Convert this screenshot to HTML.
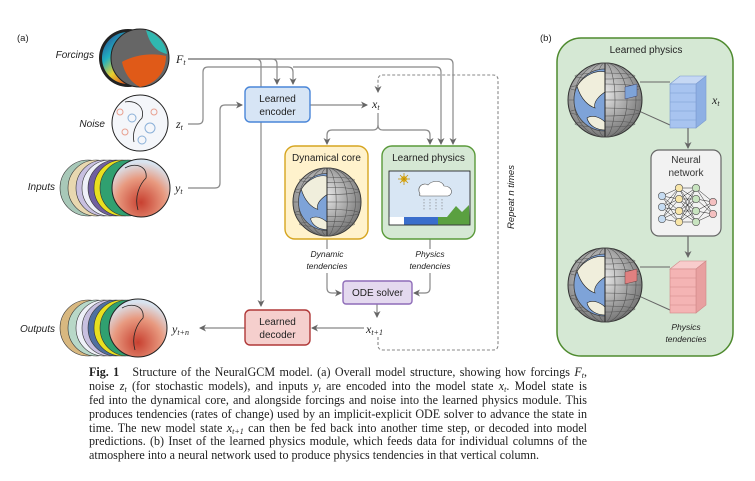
<!DOCTYPE html>
<html><head><meta charset="utf-8"><style>
html,body{margin:0;padding:0;background:#fff;}
svg{display:block;}
.s{font-family:"Liberation Sans",sans-serif;}
.m{font-family:"Liberation Serif",serif;font-style:italic;}
.cap{position:absolute;left:89px;top:366px;width:498px;font-family:"Liberation Serif",serif;font-size:12.1px;line-height:13.9px;color:#222;}
.cap div{text-align:justify;text-align-last:justify;white-space:nowrap;height:13.9px;}
.cap div.l{text-align-last:left;}
.cap sub{font-size:8px;line-height:0;vertical-align:-2px;}
</style></head><body>
<div style="position:relative;width:755px;height:481px;overflow:hidden;">
<svg width="755" height="481" viewBox="0 0 755 481" xmlns="http://www.w3.org/2000/svg">
<defs>
<marker id="ar" markerWidth="8" markerHeight="8" refX="6" refY="4" orient="auto" markerUnits="userSpaceOnUse"><path d="M0,0.5 L7,4 L0,7.5 L2,4 z" fill="#666"/></marker>
<radialGradient id="gg" cx="0.45" cy="0.4" r="0.6"><stop offset="0" stop-color="#eee"/><stop offset="1" stop-color="#777"/></radialGradient>
<linearGradient id="fg" x1="0" y1="0" x2="1" y2="1"><stop offset="0" stop-color="#2a3b8f"/><stop offset="0.3" stop-color="#20b0c0"/><stop offset="0.5" stop-color="#e8d030"/><stop offset="0.7" stop-color="#e06020"/><stop offset="1" stop-color="#c02010"/></linearGradient>
<radialGradient id="rg" cx="0.5" cy="0.75" r="0.7"><stop offset="0" stop-color="#c84030"/><stop offset="0.6" stop-color="#e89a80"/><stop offset="1" stop-color="#d8e4f0"/></radialGradient>
<clipPath id="lh"><rect x="-50" y="-50" width="50" height="100"/></clipPath>
<g id="dglobe">
<circle r="37" fill="url(#gg)" stroke="#333" stroke-width="1"/>
<g stroke="#555" stroke-width="0.6" fill="none">
<ellipse rx="10" ry="37"/><ellipse rx="22" ry="37"/><ellipse rx="31" ry="37"/>
<line x1="-37" y1="0" x2="37" y2="0"/><ellipse rx="35" ry="4" cy="-12"/><ellipse rx="35" ry="4" cy="12"/><ellipse rx="30" ry="3" cy="-24"/><ellipse rx="30" ry="3" cy="24"/>
</g>
<g clip-path="url(#lh)">
<circle r="31" fill="#7ea3d8"/>
<path d="M-28,-14 C-20,-26 -8,-30 0,-28 L0,-8 C-6,-4 -12,2 -10,8 C-16,6 -24,0 -28,-14z" fill="#f0eedc" stroke="#222" stroke-width="0.6"/>
<path d="M-18,18 C-12,14 -4,18 0,22 L0,30 C-8,30 -16,26 -18,18z" fill="#f0eedc" stroke="#222" stroke-width="0.6"/>
<circle r="31" fill="none" stroke="#444" stroke-width="0.8"/>
</g>
<line x1="0" y1="-37" x2="0" y2="37" stroke="#222" stroke-width="1"/>
</g>
</defs>

<text x="17" y="41" class="s" font-size="9.5" fill="#222">(a)</text>
<text x="540" y="41" class="s" font-size="9.5" fill="#222">(b)</text>

<!-- Forcings globe -->
<text x="94" y="58" class="s" font-size="10" font-style="italic" text-anchor="end" fill="#222">Forcings</text>
<ellipse cx="128" cy="58" rx="29" ry="29" fill="#222"/>
<ellipse cx="128" cy="58" rx="26" ry="26" fill="url(#fg)"/>
<circle cx="140" cy="58" r="29" fill="#666" stroke="#222"/>
<path d="M122,62 C132,56 150,52 166,56 C166,72 156,84 140,87 C130,82 124,72 122,62z" fill="#e05a18"/>
<path d="M146,30 C158,34 166,44 167,54 C158,52 150,46 146,30z" fill="#30b8b0"/>
<text x="176" y="63" class="m" font-size="12" fill="#222">F<tspan font-size="8" dy="2">t</tspan></text>

<!-- Noise -->
<text x="105" y="127" class="s" font-size="10" font-style="italic" text-anchor="end" fill="#222">Noise</text>
<circle cx="140" cy="123" r="28" fill="#f4f6fa" stroke="#222"/>
<g fill="none" stroke-width="1">
<circle cx="132" cy="118" r="4" stroke="#8ab0d8"/><circle cx="150" cy="128" r="5" stroke="#8ab0d8"/><circle cx="125" cy="132" r="3" stroke="#e8a090"/><circle cx="154" cy="112" r="3" stroke="#e8a090"/><circle cx="142" cy="140" r="4" stroke="#8ab0d8"/><circle cx="120" cy="112" r="3" stroke="#e8a090"/>
</g>
<path d="M125,102 C135,100 145,106 142,118 C136,124 132,132 134,142" fill="none" stroke="#222" stroke-width="0.8"/>
<text x="176" y="128" class="m" font-size="12" fill="#222">z<tspan font-size="8" dy="2">t</tspan></text>

<!-- Inputs stack -->
<text x="55" y="190" class="s" font-size="10" font-style="italic" text-anchor="end" fill="#222">Inputs</text>
<g stroke="#333" stroke-width="0.6">
<circle cx="88" cy="188" r="28" fill="#a8c8b8"/><circle cx="96" cy="188" r="28" fill="#e8d8b0"/><circle cx="104" cy="188" r="28" fill="#c8c0e0"/><circle cx="110" cy="188" r="28" fill="#eef0f8"/><circle cx="116" cy="188" r="28" fill="#7060a0"/><circle cx="122" cy="188" r="28" fill="#e8e020"/><circle cx="128" cy="188" r="28" fill="#30a070"/>
</g>
<circle cx="141" cy="188" r="29" fill="url(#rg)" stroke="#222"/>
<path d="M125,168 C135,162 148,166 146,178 C140,184 134,196 138,210" fill="none" stroke="#222" stroke-width="0.8"/>
<text x="175" y="192" class="m" font-size="12" fill="#222">y<tspan font-size="8" dy="2">t</tspan></text>

<!-- Outputs stack -->
<text x="55" y="332" class="s" font-size="10" font-style="italic" text-anchor="end" fill="#222">Outputs</text>
<g stroke="#333" stroke-width="0.6">
<circle cx="88" cy="328" r="28" fill="#d8b880"/><circle cx="96" cy="328" r="28" fill="#b8d8c8"/><circle cx="104" cy="328" r="28" fill="#eef0f8"/><circle cx="110" cy="328" r="28" fill="#c8c0e0"/><circle cx="116" cy="328" r="28" fill="#5070a0"/><circle cx="122" cy="328" r="28" fill="#e8e020"/><circle cx="128" cy="328" r="28" fill="#30a070"/>
</g>
<circle cx="138" cy="328" r="29" fill="url(#rg)" stroke="#222"/>
<path d="M122,308 C132,302 145,306 143,318 C137,324 131,336 135,350" fill="none" stroke="#222" stroke-width="0.8"/>
<text x="172" y="333" class="m" font-size="12" fill="#222">y<tspan font-size="8" dy="2">t+n</tspan></text>

<!-- connectors -->
<g fill="none" stroke="#888" stroke-width="1.2">
<path d="M188,59 H256 Q261,59 261,64 V306" marker-end="url(#ar)"/>
<path d="M188,59 H272 Q277,59 277,64 V84" marker-end="url(#ar)"/>
<path d="M188,59 H448 Q453,59 453,64 V144" marker-end="url(#ar)"/>
<path d="M188,124 H198 Q203,124 203,119 V72 Q203,67 208,67 H288 Q293,67 293,72 V84" marker-end="url(#ar)"/>
<path d="M293,67 H436 Q441,67 441,72 V144" marker-end="url(#ar)"/>
<path d="M188,188 H215 Q220,188 220,183 V110 Q220,105 225,105 H242" marker-end="url(#ar)"/>
<path d="M310,105 H367" marker-end="url(#ar)"/>
<path d="M378,113 V125 Q378,130 373,130 H332 Q327,130 327,135 V144" marker-end="url(#ar)"/>
<path d="M378,125 Q378,130 383,130 H425 Q430,130 430,135 V144" marker-end="url(#ar)"/>
<path d="M327,239 V249"/>
<path d="M327,273 V288 Q327,293 332,293 H341" marker-end="url(#ar)"/>
<path d="M430,239 V249"/>
<path d="M430,273 V288 Q430,293 425,293 H414" marker-end="url(#ar)"/>
<path d="M377,304 V317" marker-end="url(#ar)"/>
<path d="M364,328 H312" marker-end="url(#ar)"/>
<path d="M245,328 H200" marker-end="url(#ar)"/>
</g>
<path d="M378,337 V345 Q378,350 383,350 H493 Q498,350 498,345 V80 Q498,75 493,75 H383 Q378,75 378,80 V92" fill="none" stroke="#888" stroke-width="1.1" stroke-dasharray="3,2" marker-end="url(#ar)"/>

<!-- Encoder -->
<rect x="245" y="87" width="65" height="35" rx="5" fill="#d7e5f5" stroke="#4a86d8" stroke-width="1.4"/>
<text x="277.5" y="102" class="s" font-size="10" text-anchor="middle" fill="#222">Learned</text>
<text x="277.5" y="115" class="s" font-size="10" text-anchor="middle" fill="#222">encoder</text>
<text x="372" y="108" class="m" font-size="12" fill="#222">x<tspan font-size="8" dy="2">t</tspan></text>

<!-- Dynamical core -->
<rect x="285" y="146" width="83" height="93" rx="10" fill="#fff2cc" stroke="#d6a520" stroke-width="1.4"/>
<text x="326.5" y="161" class="s" font-size="10" text-anchor="middle" fill="#222">Dynamical core</text>
<use href="#dglobe" transform="translate(327,202) scale(0.92)"/>

<!-- Learned physics -->
<rect x="382" y="146" width="93" height="93" rx="10" fill="#d5e8d4" stroke="#5a9a3a" stroke-width="1.4"/>
<text x="428.5" y="161" class="s" font-size="10" text-anchor="middle" fill="#222">Learned physics</text>
<rect x="389" y="171" width="81" height="54" fill="#d8e6f4" stroke="#111" stroke-width="0.8"/>
<rect x="389.5" y="217" width="15" height="7.5" fill="#fff"/>
<rect x="404" y="217" width="34" height="7.5" fill="#3a6ecc"/>
<rect x="438" y="217" width="31.5" height="7.5" fill="#5aa040"/>
<path d="M447,217 L456,206 L462,212 L469,205 L469.5,217z" fill="#5aa040"/>
<circle cx="404" cy="179" r="3" fill="#f0c020"/>
<g stroke="#c09010" stroke-width="0.8"><line x1="404" y1="173" x2="404" y2="185"/><line x1="398" y1="179" x2="410" y2="179"/><line x1="400" y1="175" x2="408" y2="183"/><line x1="408" y1="175" x2="400" y2="183"/></g>
<path d="M420,194 C416,186 424,182 428,185 C432,180 442,180 444,186 C452,186 454,194 448,196 H422 C419,196 419,195 420,194z" fill="#fff" stroke="#555" stroke-width="0.6"/>
<g stroke="#777" stroke-width="0.6" stroke-dasharray="1.5,1.5"><line x1="424" y1="199" x2="424" y2="211"/><line x1="430" y1="199" x2="430" y2="211"/><line x1="436" y1="199" x2="436" y2="211"/><line x1="442" y1="199" x2="442" y2="211"/></g>

<text x="327" y="257" class="s" font-size="8.5" font-style="italic" text-anchor="middle" fill="#222">Dynamic</text>
<text x="327" y="269" class="s" font-size="8.5" font-style="italic" text-anchor="middle" fill="#222">tendencies</text>
<text x="430" y="257" class="s" font-size="8.5" font-style="italic" text-anchor="middle" fill="#222">Physics</text>
<text x="430" y="269" class="s" font-size="8.5" font-style="italic" text-anchor="middle" fill="#222">tendencies</text>

<!-- ODE -->
<rect x="343" y="281" width="69" height="23" rx="3" fill="#e4d9ef" stroke="#8e6cb8" stroke-width="1.4"/>
<text x="377.5" y="296" class="s" font-size="10" text-anchor="middle" fill="#222">ODE solver</text>
<text x="366" y="333" class="m" font-size="12" fill="#222">x<tspan font-size="8" dy="2">t+1</tspan></text>

<!-- Decoder -->
<rect x="245" y="310" width="65" height="35" rx="5" fill="#f5cfcd" stroke="#b03838" stroke-width="1.4"/>
<text x="277.5" y="325" class="s" font-size="10" text-anchor="middle" fill="#222">Learned</text>
<text x="277.5" y="338" class="s" font-size="10" text-anchor="middle" fill="#222">decoder</text>

<text transform="translate(514,197) rotate(-90)" class="s" font-size="9.5" font-style="italic" text-anchor="middle" fill="#222">Repeat n times</text>

<!-- Panel b -->
<rect x="557" y="38" width="176" height="318" rx="24" fill="#d5e8d4" stroke="#4e8a2e" stroke-width="1.5"/>
<text x="646" y="53" class="s" font-size="10" text-anchor="middle" fill="#222">Learned physics</text>
<line x1="640" y1="82" x2="670" y2="82" stroke="#666" stroke-width="1"/>
<line x1="630" y1="107" x2="670" y2="125" stroke="#666" stroke-width="1"/>
<use href="#dglobe" transform="translate(605,100)"/>
<path d="M625,87 L637,84 L637,96 L625,99z" fill="#7ea3d8" stroke="#446" stroke-width="0.5"/>
<path d="M670,84 L680,76 L706,76 L696,84z" fill="#c6d8f4" stroke="#7a9ad0" stroke-width="0.6"/>
<path d="M696,84 L706,76 L706,120 L696,128z" fill="#8eb0e4" stroke="#7a9ad0" stroke-width="0.6"/>
<rect x="670" y="84" width="26" height="44" fill="#a8c4f0" stroke="#7a9ad0" stroke-width="0.6"/>
<g stroke="#7a9ad0" stroke-width="0.6"><line x1="670" y1="93" x2="696" y2="93"/><line x1="670" y1="102" x2="696" y2="102"/><line x1="670" y1="111" x2="696" y2="111"/><line x1="670" y1="120" x2="696" y2="120"/></g>
<text x="712" y="104" class="m" font-size="12" fill="#222">x<tspan font-size="8" dy="2">t</tspan></text>
<line x1="688" y1="128" x2="688" y2="148" stroke="#666" stroke-width="1.2" marker-end="url(#ar)"/>
<rect x="651" y="150" width="70" height="86" rx="8" fill="#f2f2f2" stroke="#666" stroke-width="1.2"/>
<text x="686" y="163" class="s" font-size="10" text-anchor="middle" fill="#333">Neural</text>
<text x="686" y="176" class="s" font-size="10" text-anchor="middle" fill="#333">network</text>
<g stroke="#222" stroke-width="0.5">
<path d="M662,196 L679,188 M662,196 L679,199 M662,196 L679,211 M662,196 L679,222 M662,207 L679,188 M662,207 L679,199 M662,207 L679,211 M662,207 L679,222 M662,219 L679,188 M662,219 L679,199 M662,219 L679,211 M662,219 L679,222"/>
<path d="M679,188 L696,188 M679,188 L696,199 M679,188 L696,211 M679,188 L696,222 M679,199 L696,188 M679,199 L696,199 M679,199 L696,211 M679,199 L696,222 M679,211 L696,188 M679,211 L696,199 M679,211 L696,211 M679,211 L696,222 M679,222 L696,188 M679,222 L696,199 M679,222 L696,211 M679,222 L696,222"/>
<path d="M696,188 L713,202 M696,188 L713,214 M696,199 L713,202 M696,199 L713,214 M696,211 L713,202 M696,211 L713,214 M696,222 L713,202 M696,222 L713,214"/>
</g>
<g stroke="#555" stroke-width="0.6">
<circle cx="662" cy="196" r="3.7" fill="#c6dcf2"/><circle cx="662" cy="207" r="3.7" fill="#c6dcf2"/><circle cx="662" cy="219" r="3.7" fill="#c6dcf2"/>
<circle cx="679" cy="188" r="3.7" fill="#f8e6a8"/><circle cx="679" cy="199" r="3.7" fill="#f8e6a8"/><circle cx="679" cy="211" r="3.7" fill="#f8e6a8"/><circle cx="679" cy="222" r="3.7" fill="#f8e6a8"/>
<circle cx="696" cy="188" r="3.7" fill="#c8e4c0"/><circle cx="696" cy="199" r="3.7" fill="#c8e4c0"/><circle cx="696" cy="211" r="3.7" fill="#c8e4c0"/><circle cx="696" cy="222" r="3.7" fill="#c8e4c0"/>
<circle cx="713" cy="202" r="3.7" fill="#f4c0c0"/><circle cx="713" cy="214" r="3.7" fill="#f4c0c0"/>
</g>
<line x1="688" y1="236" x2="688" y2="257" stroke="#666" stroke-width="1.2" marker-end="url(#ar)"/>
<line x1="640" y1="267" x2="670" y2="267" stroke="#666" stroke-width="1"/>
<line x1="630" y1="292" x2="670" y2="310" stroke="#666" stroke-width="1"/>
<use href="#dglobe" transform="translate(605,285)"/>
<path d="M625,272 L637,269 L637,281 L625,284z" fill="#e08080" stroke="#644" stroke-width="0.5"/>
<path d="M670,269 L680,261 L706,261 L696,269z" fill="#f8cccc" stroke="#d08888" stroke-width="0.6"/>
<path d="M696,269 L706,261 L706,305 L696,313z" fill="#e8a0a0" stroke="#d08888" stroke-width="0.6"/>
<rect x="670" y="269" width="26" height="44" fill="#f4b4b4" stroke="#d08888" stroke-width="0.6"/>
<g stroke="#d08888" stroke-width="0.6"><line x1="670" y1="278" x2="696" y2="278"/><line x1="670" y1="287" x2="696" y2="287"/><line x1="670" y1="296" x2="696" y2="296"/><line x1="670" y1="305" x2="696" y2="305"/></g>
<text x="686" y="330" class="s" font-size="8.5" font-style="italic" text-anchor="middle" fill="#222">Physics</text>
<text x="686" y="342" class="s" font-size="8.5" font-style="italic" text-anchor="middle" fill="#222">tendencies</text>
</svg>
<div class="cap">
<div><b>Fig. 1</b>&nbsp;&nbsp; Structure of the NeuralGCM model. (a) Overall model structure, showing how forcings <i>F<sub>t</sub></i>,</div>
<div>noise <i>z<sub>t</sub></i> (for stochastic models), and inputs <i>y<sub>t</sub></i> are encoded into the model state <i>x<sub>t</sub></i>. Model state is</div>
<div>fed into the dynamical core, and alongside forcings and noise into the learned physics module. This</div>
<div>produces tendencies (rates of change) used by an implicit-explicit ODE solver to advance the state in</div>
<div>time. The new model state <i>x<sub>t+1</sub></i> can then be fed back into another time step, or decoded into model</div>
<div>predictions. (b) Inset of the learned physics module, which feeds data for individual columns of the</div>
<div class="l">atmosphere into a neural network used to produce physics tendencies in that vertical column.</div>
</div>
</div>
</body></html>
